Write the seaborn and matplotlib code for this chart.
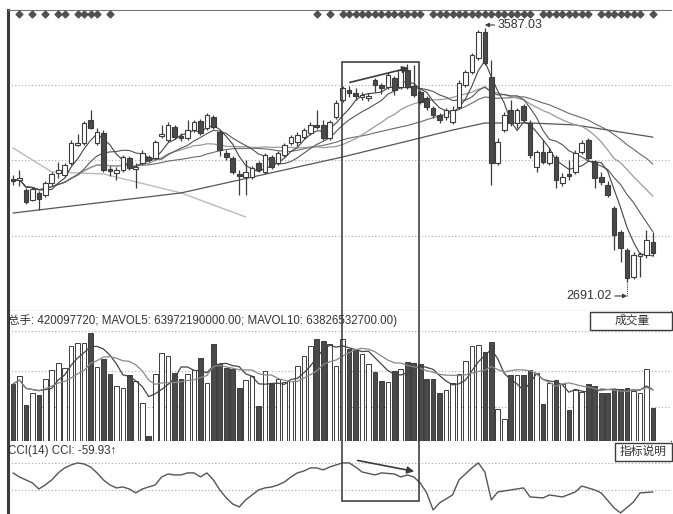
import numpy as np
import pandas as pd
import matplotlib
matplotlib.use("Agg")
import matplotlib.pyplot as plt
import seaborn as sns
from matplotlib.patches import Rectangle

sns.set_style("white")
plt.rcParams['font.family'] = ['Liberation Sans', 'Noto Sans CJK SC', 'DejaVu Sans']

# daily candles (open, close, high, low)
opens = [3054, 3051, 3015, 2980, 3005, 2998, 3040, 3075, 3068, 3111,
         3174, 3181, 3262, 3181, 3216, 3089, 3075, 3086, 3128, 3089,
         3111, 3132, 3128, 3206, 3192, 3238, 3206, 3199, 3227, 3259,
         3234, 3273, 3220, 3146, 3128, 3072, 3061, 3061, 3111, 3079,
         3132, 3111, 3139, 3181, 3185, 3202, 3216, 3245, 3245, 3199,
         3273, 3333, 3368, 3358, 3344, 3340, 3404, 3386, 3379, 3411,
         3379, 3439, 3382, 3361, 3340, 3305, 3280, 3273, 3255, 3308,
         3386, 3432, 3481, 3573, 3414, 3111, 3227, 3298, 3252, 3312,
         3252, 3096, 3149, 3111, 3132, 3040, 3072, 3079, 3149, 3192,
         3114, 3061, 3033, 2952, 2867, 2803, 2708, 2782, 2786, 2832]
closes = [3047, 3058, 2973, 3019, 2984, 3040, 3072, 3086, 3104, 3181,
          3181, 3252, 3234, 3220, 3086, 3082, 3086, 3132, 3093, 3096,
          3146, 3121, 3185, 3213, 3245, 3202, 3199, 3227, 3255, 3216,
          3280, 3238, 3156, 3132, 3079, 3065, 3079, 3093, 3086, 3139,
          3096, 3146, 3174, 3202, 3209, 3227, 3245, 3238, 3199, 3255,
          3322, 3375, 3358, 3347, 3351, 3347, 3386, 3375, 3421, 3368,
          3439, 3379, 3351, 3326, 3308, 3280, 3262, 3298, 3298, 3393,
          3432, 3492, 3573, 3464, 3111, 3185, 3280, 3252, 3298, 3262,
          3139, 3149, 3114, 3149, 3051, 3061, 3065, 3146, 3181, 3128,
          3058, 3044, 2998, 2856, 2811, 2705, 2786, 2789, 2839, 2793]
highs = [3068, 3086, 3022, 3026, 3012, 3047, 3079, 3114, 3111, 3192,
         3213, 3259, 3298, 3234, 3227, 3100, 3096, 3139, 3135, 3111,
         3156, 3139, 3192, 3245, 3255, 3245, 3216, 3262, 3262, 3266,
         3287, 3280, 3227, 3156, 3135, 3086, 3121, 3100, 3118, 3146,
         3139, 3153, 3181, 3209, 3220, 3234, 3255, 3298, 3262, 3262,
         3333, 3382, 3382, 3375, 3361, 3358, 3411, 3393, 3432, 3418,
         3446, 3460, 3457, 3368, 3347, 3312, 3287, 3305, 3312, 3404,
         3439, 3499, 3580, 3587.03, 3474, 3199, 3291, 3333, 3305, 3319,
         3262, 3156, 3192, 3164, 3139, 3075, 3121, 3156, 3192, 3199,
         3121, 3079, 3047, 2959, 2874, 2811, 2796, 2796, 2874, 2867]
lows = [3033, 3029, 2966, 2976, 2945, 2991, 3033, 3058, 3061, 3104,
        3171, 3174, 3231, 3174, 3079, 3065, 3051, 3079, 3086, 3022,
        3104, 3114, 3121, 3199, 3185, 3195, 3188, 3192, 3220, 3209,
        3227, 3231, 3135, 3121, 3072, 2998, 2998, 3054, 3079, 3072,
        3089, 3104, 3132, 3174, 3171, 3195, 3209, 3231, 3192, 3192,
        3266, 3326, 3344, 3333, 3333, 3329, 3361, 3354, 3372, 3351,
        3372, 3372, 3344, 3319, 3298, 3269, 3252, 3262, 3248, 3301,
        3379, 3425, 3474, 3457, 3033, 3104, 3220, 3241, 3234, 3255,
        3128, 3079, 3107, 3104, 3022, 3029, 3051, 3072, 3142, 3121,
        3022, 3033, 2991, 2803, 2761, 2691.02, 2701, 2708, 2775, 2782]

# turnover, 100 million yuan
volumes = [712, 812, 450, 600, 575, 775, 888, 975, 912, 1188,
           1225, 1225, 1350, 925, 1025, 838, 688, 662, 825, 750,
           475, 62, 838, 1100, 1062, 850, 775, 838, 888, 1038,
           725, 1212, 962, 912, 900, 662, 762, 812, 438, 875,
           712, 775, 738, 750, 938, 1062, 1188, 1275, 1250, 1212,
           938, 1275, 1150, 1138, 1088, 962, 862, 750, 738, 875,
           900, 988, 975, 962, 775, 775, 600, 638, 725, 838,
           1000, 1188, 1200, 1112, 1238, 400, 275, 825, 825, 825,
           888, 850, 462, 725, 762, 712, 388, 638, 612, 712,
           688, 600, 600, 650, 650, 662, 625, 600, 900, 412]

# long moving averages (day index, value)
ma60_days = [0, 26, 51, 68, 73, 80, 87, 99]
ma60_vals = [2934, 3005, 3132, 3227, 3252, 3252, 3245, 3202]
ma120_days = [0, 6, 14, 26, 36]
ma120_vals = [3164, 3079, 3072, 3005, 2920]

# CCI(14)
cci_days = [0, 1, 2, 3, 4, 5, 6, 7, 8, 9, 10, 11, 12, 13, 14, 15, 16, 17, 18, 19,
            20, 21, 22, 23, 24, 25, 26, 27, 28, 29, 30, 31, 32, 33, 34, 35, 36, 37, 38, 39,
            40, 41, 42, 43, 44, 45, 46, 47, 48, 49, 51, 52, 53, 54, 56, 57, 59, 60, 61, 62,
            63, 64, 65, 66, 68, 69, 71, 72, 73, 74, 75, 77, 79, 80, 82, 83, 85, 87, 88, 90,
            91, 93, 94, 96, 97, 99]
cci_vals = [30, 0, -22, -44, -89, -59, -22, 30, 67, 89, 104, 96, 74, 30, -22, -59, -81, -74, -89, -118,
            -89, -74, -59, 0, 22, 15, 15, 30, 30, 0, 30, -22, -96, -155, -200, -222, -170, -133, -96, -81,
            -74, -59, -37, 0, 30, 44, 67, 67, 52, 74, 104, 104, 74, 37, 15, 30, 22, 0, 15, 0,
            -44, -118, -244, -192, -133, -22, 67, 104, 37, -170, -111, -96, -81, -148, -155, -133, -148, -111, -67, -96,
            -118, -229, -266, -185, -118, -111]

signal_days = [1, 3, 5, 7, 8, 10, 11, 12, 13, 15, 47, 49,
               51, 52, 53, 54, 55, 56, 57, 58, 59, 60, 61, 62, 63, 65, 66,
               67, 68, 69, 70, 71, 72, 73, 74, 75, 76, 77, 78, 79, 80,
               82, 83, 84, 85, 86, 87, 88, 89, 91, 92, 93, 94, 95, 96, 97, 99]

df = pd.DataFrame({"open": opens, "close": closes, "high": highs, "low": lows, "vol": volumes})
df["day"] = np.arange(len(df))
df["down"] = df["close"] < df["open"]
for n in [5, 10, 20, 30]:
    df[f"ma{n}"] = df["close"].rolling(n, min_periods=1).mean()
df["mavol5"] = df["vol"].rolling(5, min_periods=1).mean()
df["mavol10"] = df["vol"].rolling(10, min_periods=1).mean()

dark = "#3c3c3c"
line = "#555555"
grid = "#a8a8a8"

fig = plt.figure(figsize=(6.73, 5.14), dpi=100)
W, H = 673.0, 514.0
ax_p = fig.add_axes([8 / W, 1 - 311 / H, 663 / W, 301 / H])
ax_v = fig.add_axes([8 / W, 1 - 441 / H, 663 / W, 130 / H])
ax_c = fig.add_axes([8 / W, 0, 663 / W, 73 / H])

for ax in [ax_p, ax_v, ax_c]:
    ax.set_xlim(-0.77, 101.8)
    ax.set_xticks([])
    ax.set_yticks([])
    ax.spines["right"].set_visible(False)
    ax.spines["left"].set_linewidth(2.2)
    ax.spines["left"].set_color(dark)
    ax.spines["bottom"].set_color(dark)
    ax.spines["top"].set_visible(False)
ax_c.spines["bottom"].set_visible(False)

# ---- price panel ----
ax_p.set_ylim(2588, 3651)
ax_p.spines["top"].set_visible(True)
ax_p.spines["top"].set_linestyle((0, (1, 1)))
ax_p.spines["top"].set_color("#777777")
for lvl in [3386, 3121, 2853]:
    ax_p.axhline(lvl, color=grid, lw=0.8, ls=(0, (1, 2)), zorder=0)

sns.lineplot(x=ma120_days, y=ma120_vals, ax=ax_p, color="#bbbbbb", lw=1.0, zorder=1)
sns.lineplot(x=ma60_days, y=ma60_vals, ax=ax_p, color=line, lw=0.9, zorder=1)
sns.lineplot(data=df, x="day", y="ma30", ax=ax_p, color="#6a6a6a", lw=0.8, zorder=1)
sns.lineplot(data=df, x="day", y="ma20", ax=ax_p, color="#9a9a9a", lw=0.9, zorder=1)
sns.lineplot(data=df, x="day", y="ma10", ax=ax_p, color=line, lw=0.8, zorder=1)
sns.lineplot(data=df, x="day", y="ma5", ax=ax_p, color="#444444", lw=0.8, zorder=1)

ax_p.vlines(df["day"], df["low"], df["high"], color=dark, lw=0.9, zorder=2)
body = (df["close"] - df["open"]).abs().clip(lower=3)
bottom = df[["open", "close"]].min(axis=1)
ax_p.bar(df["day"], body, bottom=bottom, width=0.72,
         color=np.where(df["down"], "#4a4a4a", "white"), edgecolor=dark, lw=0.8, zorder=3)

ax_p.scatter(signal_days, [3637] * len(signal_days), marker="D", s=12, color="#505050", zorder=3)

ax_p.annotate("3587.03", xy=(73, 3598), xytext=(75.0, 3598), fontsize=9, color="#333333",
              va="center", arrowprops=dict(arrowstyle="-|>", color=dark, lw=0.8, mutation_scale=6,
                                           shrinkA=0, shrinkB=0))
ax_p.vlines(95, 2641, 2691, color=dark, lw=0.8, ls=(0, (1, 1)))
ax_p.annotate("2691.02", xy=(95, 2641), xytext=(92.6, 2641), fontsize=9, color="#333333",
              va="center", ha="right", arrowprops=dict(arrowstyle="-|>", color=dark, lw=0.8,
                                                       mutation_scale=6, shrinkA=0, shrinkB=0))
ax_p.annotate("", xy=(61.7, 3449), xytext=(51.7, 3393),
              arrowprops=dict(arrowstyle="-|>", color=dark, lw=1.2, mutation_scale=10))

# ---- volume panel ----
ax_v.set_ylim(0, 1625)
for lvl in [1375, 875, 425]:
    ax_v.axhline(lvl, color=grid, lw=0.8, ls=(0, (1, 2)), zorder=0)
ax_v.bar(df["day"], df["vol"], width=0.72, color=np.where(df["down"], "#4a4a4a", "white"),
         edgecolor=dark, lw=0.7, zorder=2)
sns.lineplot(data=df, x="day", y="mavol5", ax=ax_v, color="#444444", lw=0.9, zorder=3)
sns.lineplot(data=df, x="day", y="mavol10", ax=ax_v, color="#888888", lw=0.9, zorder=3)
ax_v.text(0.0, 0.925, "总手: 420097720; MAVOL5: 63972190000.00; MAVOL10: 63826532700.00)",
          transform=ax_v.transAxes, fontsize=8.3, color="#333333", va="center", ha="left")

# ---- CCI panel ----
ax_c.set_ylim(-274, 266)
for lvl in [100, -100]:
    ax_c.axhline(lvl, color=grid, lw=0.8, ls=(0, (1, 2)), zorder=0)
sns.lineplot(x=cci_days, y=cci_vals, ax=ax_c, color=line, lw=1.0)
ax_c.annotate("", xy=(62.5, 37), xytext=(52.9, 126),
              arrowprops=dict(arrowstyle="-|>", color=dark, lw=1.2, mutation_scale=10))
ax_c.text(0.0, 0.86, "CCI(14) CCI: -59.93↑", transform=ax_c.transAxes, fontsize=8.3,
          color="#333333", va="center", ha="left")

for ax in [ax_p, ax_v, ax_c]:
    ax.set_xlabel("")
    ax.set_ylabel("")

# buttons on the right
fig.add_artist(Rectangle((590 / W, 1 - 330 / H), 82 / W, 18 / H, transform=fig.transFigure,
                         facecolor="white", edgecolor=dark, lw=1.0))
fig.text(632 / W, 1 - 321 / H, "成交量", fontsize=8.5, ha="center", va="center", color="#333333")
fig.add_artist(Rectangle((615 / W, 1 - 461 / H), 57 / W, 18 / H, transform=fig.transFigure,
                         facecolor="white", edgecolor=dark, lw=1.0))
fig.text(643 / W, 1 - 452 / H, "指标说明", fontsize=8.5, ha="center", va="center", color="#333333")

# highlight box spanning all panels
fig.add_artist(Rectangle((342 / W, 1 - 501 / H), 77 / W, 439 / H, transform=fig.transFigure,
                         facecolor="none", edgecolor="#333333", lw=1.1))

fig.savefig("out.png", dpi=100, facecolor="white")
